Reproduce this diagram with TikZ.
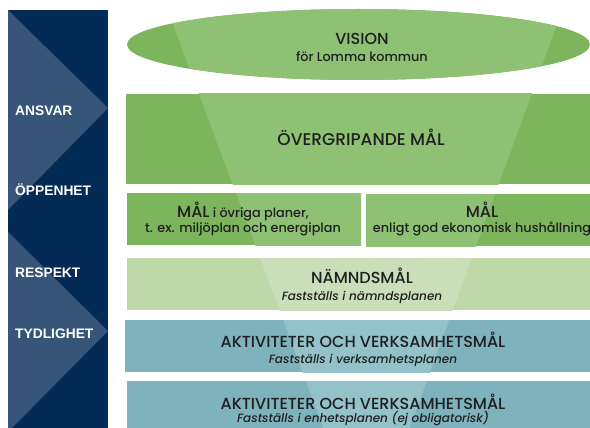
\documentclass[tikz,border=0pt]{standalone}
\usepackage{fontspec}
\setmainfont{Poppins}[UprightFont=* Medium, ItalicFont=* Medium Italic]
\newfontfamily\labfont{Liberation Sans}
\definecolor{navy}{HTML}{032B55}
\definecolor{navylt}{HTML}{365579}
\definecolor{gdark}{HTML}{7DB55C}
\definecolor{glight}{HTML}{8EC174}
\definecolor{pdark}{HTML}{BED8AA}
\definecolor{plight}{HTML}{C9DEB9}
\definecolor{tdark}{HTML}{7EB2BD}
\definecolor{tlight}{HTML}{93C2CB}
\definecolor{ink}{HTML}{1F1F1F}
\tikzset{
  lab/.style={anchor=west, text=white, font=\labfont\bfseries\fontsize{13.8}{15}\selectfont, inner sep=0pt},
  ttl/.style={text=ink, font=\fontsize{16}{18}\selectfont, inner sep=0pt, anchor=base},
  sub/.style={text=ink, font=\fontsize{12.8}{14}\selectfont, inner sep=0pt, anchor=base},
  subit/.style={text=ink, font=\itshape\fontsize{12}{14}\selectfont, inner sep=0pt, anchor=base},
}
\newcommand{\funnelfill}[1]{\fill[#1] (164,0) -- (566,0) -- (367,545) -- cycle;}
\begin{document}
\begin{tikzpicture}[x=1pt,y=-1pt]
\useasboundingbox (0,0) rectangle (590,428);
% left panel
\fill[navy] (8,10) rectangle (108,432);
\fill[navylt] (8,10) -- (108,108) -- (8,210) -- cycle;
\fill[navylt] (8,232) -- (108,331) -- (8,432) -- cycle;
\node[lab] (ansvar) at (15,111) {ANSVAR};
\node[lab] (oppen) at (15,190) {ÖPPENHET};
\node[lab] (resp) at (15,273) {RESPEKT};
\node[lab] (tydl) at (15,334) {TYDLIGHET};
% vision ellipse
\begin{scope}
\fill[gdark] (358.5,44.5) ellipse [x radius=231.5, y radius=35.5];
\clip (358.5,44.5) ellipse [x radius=231.5, y radius=35.5];
\funnelfill{glight}
\end{scope}
\node[ttl] (vision) at (362,45) {VISION};
\node[sub] (lomma) at (362,62) {för Lomma kommun};
% overgripande
\begin{scope}
\fill[gdark] (126,94) rectangle (600,184);
\clip (126,94) rectangle (600,184);
\funnelfill{glight}
\end{scope}
\node[ttl, font=\fontsize{17}{18}\selectfont] (ovr) at (361,146) {ÖVERGRIPANDE MÅL};
% row 3
\begin{scope}
\fill[gdark] (127,193) rectangle (361,245);
\clip (127,193) rectangle (361,245);
\funnelfill{glight}
\end{scope}
\begin{scope}
\fill[gdark] (366,194) rectangle (600,246);
\clip (366,194) rectangle (600,246);
\funnelfill{glight}
\end{scope}
\node[sub] (mal1) at (243,217) {{\fontsize{16}{18}\selectfont MÅL} i övriga planer,};
\node[sub] (mal1b) at (243,233) {t. ex. miljöplan och energiplan};
\node[ttl] (mal2) at (482,217) {MÅL};
\node[sub] (mal2b) at (482,233) {enligt god ekonomisk hushållning};
% namndsmal
\begin{scope}
\fill[pdark] (127,258) rectangle (600,310);
\clip (127,258) rectangle (600,310);
\funnelfill{plight}
\end{scope}
\node[ttl] (namnd) at (362,283) {NÄMNDSMÅL};
\node[subit] (namndb) at (362,300) {Fastställs i nämndsplanen};
% aktiviteter 1
\begin{scope}
\fill[tdark] (125,320) rectangle (600,372);
\clip (125,320) rectangle (600,372);
\funnelfill{tlight}
\end{scope}
\node[ttl] (akt1) at (363,347) {AKTIVITETER OCH VERKSAMHETSMÅL};
\node[subit] (akt1b) at (363,363) {Fastställs i verksamhetsplanen};
% aktiviteter 2
\begin{scope}
\fill[tdark] (127,381) rectangle (600,432);
\clip (127,381) rectangle (600,432);
\funnelfill{tlight}
\end{scope}
\node[ttl] (akt2) at (363,409) {AKTIVITETER OCH VERKSAMHETSMÅL};
\node[subit] (akt2b) at (363,422) {Fastställs i enhetsplanen (ej obligatorisk)};
\end{tikzpicture}
\end{document}
